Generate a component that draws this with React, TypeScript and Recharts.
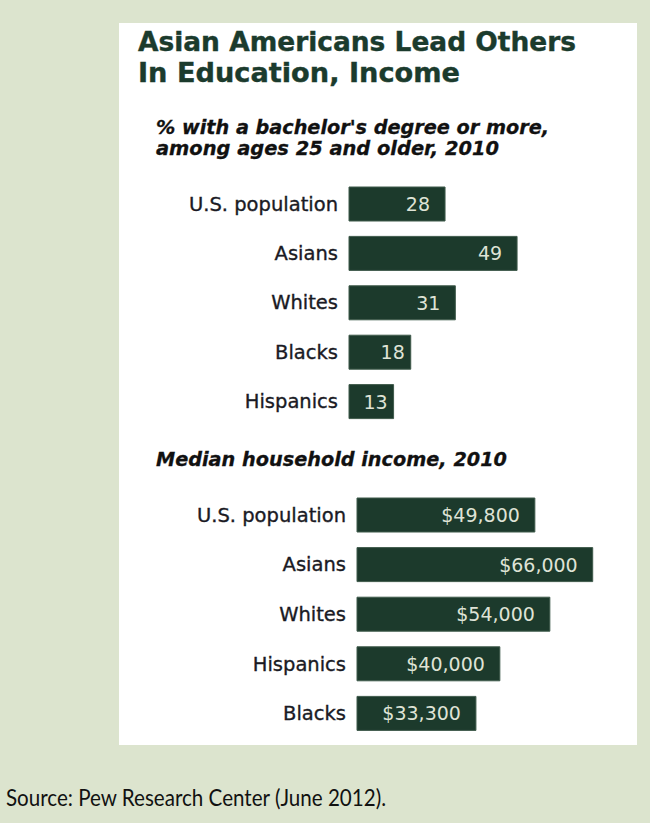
import React from "react";
import { BarChart, Bar, XAxis, YAxis, LabelList } from "recharts";

const eduCategories = ["U.S. population", "Asians", "Whites", "Blacks", "Hispanics"];
const eduValues = [28, 49, 31, 18, 13];

const incCategories = ["U.S. population", "Asians", "Whites", "Hispanics", "Blacks"];
const incValues = [49800, 66000, 54000, 40000, 33300];

const titleLines = ["Asian Americans Lead Others", "In Education, Income"];
const eduSubtitle = ["% with a bachelor's degree or more,", "among ages 25 and older, 2010"];
const incSubtitle = "Median household income, 2010";
const sourceText = "Source: Pew Research Center (June 2012).";

const eduData = eduCategories.map((name, i) => ({ name, value: eduValues[i] }));
const incData = incCategories.map((name, i) => ({ name, value: incValues[i] }));

const BAR = "#1c3a2c";
const BG = "#dce4ce";

const makeLabel = (fmt: (v: number) => string) => (props: any) => {
  const { x, y, width, height, value } = props;
  const off = width < 70 ? 6 : 15;
  return (
    <text
      x={x + width - off}
      y={y + height / 2}
      textAnchor="end"
      dominantBaseline="central"
      fill="#dfe3d6"
      fontFamily="'DejaVu Sans', Verdana, sans-serif"
      fontSize={19}
    >
      {fmt(value)}
    </text>
  );
};

const tickStyle = {
  fill: "#1a1a24",
  stroke: "#1a1a24",
  strokeWidth: 0.35,
  fontFamily: "'DejaVu Sans', Verdana, sans-serif",
  fontSize: 19.5,
};

export default function App() {
  return (
    <div
      style={{
        position: "absolute",
        left: 0,
        top: 0,
        width: 650,
        height: 823,
        background: BG,
        overflow: "hidden",
      }}
    >
      <div
        style={{
          position: "absolute",
          left: 119,
          top: 23,
          width: 518,
          height: 722,
          background: "#ffffff",
        }}
      />
      <svg
        width={650}
        height={823}
        style={{ position: "absolute", left: 0, top: 0 }}
      >
        <g
          fontFamily="'DejaVu Sans', Verdana, sans-serif"
          fontWeight="bold"
          fill="#1b3b2d"
          stroke="#1b3b2d"
          strokeWidth={0.4}
          fontSize={27}
        >
          <text x={138} y={51} textLength={438} lengthAdjust="spacingAndGlyphs">
            {titleLines[0]}
          </text>
          <text x={138} y={82} textLength={322} lengthAdjust="spacingAndGlyphs">
            {titleLines[1]}
          </text>
        </g>
        <g
          fontFamily="'DejaVu Sans', Verdana, sans-serif"
          fontWeight="bold"
          fontStyle="italic"
          fill="#111111"
          stroke="#111111"
          strokeWidth={0.3}
          fontSize={19.5}
        >
          <text x={156} y={134} textLength={393} lengthAdjust="spacingAndGlyphs">
            {eduSubtitle[0]}
          </text>
          <text x={156} y={155} textLength={343} lengthAdjust="spacingAndGlyphs">
            {eduSubtitle[1]}
          </text>
          <text x={156} y={466} textLength={351} lengthAdjust="spacingAndGlyphs">
            {incSubtitle}
          </text>
        </g>
        <text
          x={6}
          y={806}
          fontFamily="Lato, 'Open Sans', sans-serif"
          fontSize={23}
          fill="#111111"
          textLength={380}
          lengthAdjust="spacingAndGlyphs"
        >
          {sourceText}
        </text>
      </svg>

      <div style={{ position: "absolute", left: 149, top: 179, width: 371.5, height: 247 }}>
        <BarChart
          width={371.5}
          height={247}
          data={eduData}
          layout="vertical"
          margin={{ top: 0, right: 0, bottom: 0, left: 0 }}
        >
          <XAxis type="number" domain={[0, 50]} hide />
          <YAxis
            type="category"
            dataKey="name"
            width={200}
            axisLine={false}
            tickLine={false}
            tickSize={0}
            tickMargin={11}
            tick={tickStyle}
            interval={0}
          />
          <Bar
            dataKey="value"
            fill={BAR}
            stroke="#3f5a4b"
            strokeWidth={1}
            barSize={34}
            isAnimationActive={false}
          >
            <LabelList dataKey="value" content={makeLabel((v) => String(v))} />
          </Bar>
        </BarChart>
      </div>

      <div style={{ position: "absolute", left: 157, top: 490, width: 450, height: 248 }}>
        <BarChart
          width={450}
          height={248}
          data={incData}
          layout="vertical"
          margin={{ top: 0, right: 0, bottom: 0, left: 0 }}
        >
          <XAxis type="number" domain={[0, 70000]} hide />
          <YAxis
            type="category"
            dataKey="name"
            width={200}
            axisLine={false}
            tickLine={false}
            tickSize={0}
            tickMargin={11}
            tick={tickStyle}
            interval={0}
          />
          <Bar
            dataKey="value"
            fill={BAR}
            stroke="#3f5a4b"
            strokeWidth={1}
            barSize={34}
            isAnimationActive={false}
          >
            <LabelList
              dataKey="value"
              content={makeLabel((v) => "$" + Number(v).toLocaleString("en-US"))}
            />
          </Bar>
        </BarChart>
      </div>
    </div>
  );
}
